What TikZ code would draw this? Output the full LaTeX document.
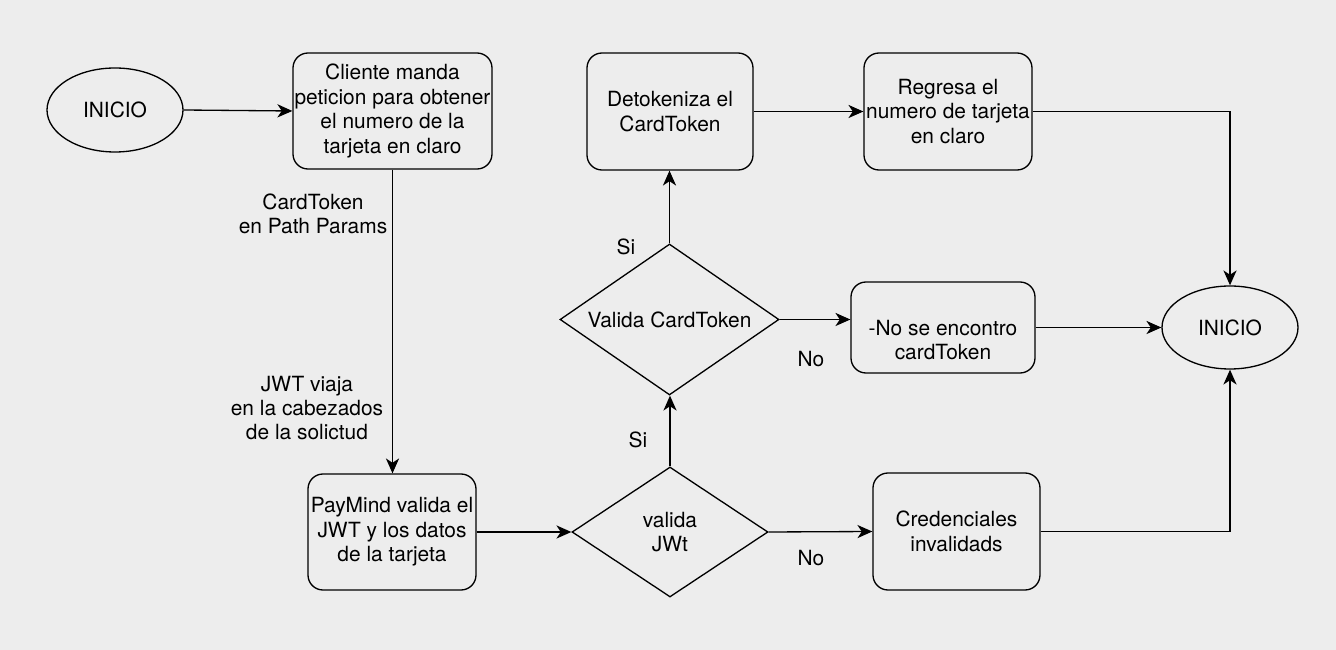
\documentclass[tikz,border=0pt]{standalone}
\usepackage{fontspec}
\setmainfont{TeX Gyre Heros}
\usetikzlibrary{shapes.geometric, arrows.meta, positioning}
\definecolor{bgcolor}{RGB}{237,237,237}
\tikzset{
	block/.style={draw, rounded corners=0.3cm, line width=0.75pt},
	decision/.style={draw, diamond, inner sep=0pt, line width=0.75pt},
	terminal/.style={draw, ellipse, inner sep=0pt, line width=0.75pt},
	flow/.style={-{Stealth[length=8.5pt, width=7.5pt, inset=2.5pt]}, line width=0.75pt},
	txt/.style={align=center, font=\fontsize{11.9}{13.9}\selectfont}
}

\begin{document}
\begin{tikzpicture}
		\fill[bgcolor] (0,0) rectangle (26.72,-13);
		
		% Start
		\node[terminal, minimum width=2.72cm, minimum height=1.68cm] (inicio) at (2.30,-2.20) {};
		\node[txt] at (inicio) {INICIO};
		
		% Client request
		\node[block, minimum width=3.98cm, minimum height=2.32cm] (cliente) at (7.85,-2.22) {};
		\node[txt] at (cliente) {Cliente manda\\peticion para obtener\\el numero de la\\tarjeta en claro};
		
		% PayMind validation
		\node[block, minimum width=3.36cm, minimum height=2.32cm] (paymind) at (7.84,-10.64) {};
		\node[txt] at (paymind) {PayMind valida el\\JWT y los datos\\de la tarjeta};
		
		% Decisions
		\node[decision, minimum width=3.92cm, minimum height=2.6cm] (validajwt) at (13.40,-10.64) {};
		\node[txt] at (validajwt) {valida\\JWt};
		\node[decision, minimum width=4.38cm, minimum height=3.02cm] (validatoken) at (13.39,-6.39) {};
		\node[txt] at (validatoken) {Valida CardToken};
		
		% Detokenize and return
		\node[block, minimum width=3.32cm, minimum height=2.34cm] (detoken) at (13.40,-2.23) {};
		\node[txt] at (detoken) {Detokeniza el\\CardToken};
		\node[block, minimum width=3.36cm, minimum height=2.34cm] (regresa) at (18.96,-2.23) {};
		\node[txt] at (regresa) {Regresa el\\numero de tarjeta\\en claro};
		
		% Errors
		\node[block, minimum width=3.68cm, minimum height=1.82cm] (notoken) at (18.86,-6.55) {};
		\node[txt] at ([yshift=-0.25cm]notoken.center) {-No se encontro\\cardToken};
		\node[block, minimum width=3.34cm, minimum height=2.34cm] (credenciales) at (19.13,-10.63) {};
		\node[txt] at (credenciales) {Credenciales\\invalidads};
		
		% End
		\node[terminal, minimum width=2.72cm, minimum height=1.66cm] (fin) at (24.60,-6.55) {};
		\node[txt] at (fin) {INICIO};
		
		% Edge labels
		\node[txt] (lbltoken) at (6.26,-4.28) {CardToken\\en Path Params};
		\node[txt] (lbljwt) at (6.14,-8.16) {JWT viaja\\en la cabezados\\de la solictud};
		\node[txt] (sitoken) at (12.52,-4.94) {Si};
		\node[txt] (sijwt) at (12.76,-8.80) {Si};
		\node[txt] (notokenlbl) at (16.22,-7.18) {No};
		\node[txt] (nojwt) at (16.22,-11.16) {No};
		
		% Arrows
		\draw[flow] (inicio.east) -- (cliente.west);
		\draw[flow] (cliente.south) -- (cliente.south |- paymind.north);
		\draw[flow] (paymind.east) -- (validajwt.west);
		\draw[flow] (validajwt.north) -- (validajwt.north |- validatoken.south);
		\draw[flow] (validajwt.east) -- (credenciales.west);
		\draw[flow] (validatoken.north) -- (validatoken.north |- detoken.south);
		\draw[flow] (validatoken.east) -- (validatoken.east -| notoken.west);
		\draw[flow] (detoken.east) -- (regresa.west);
		\draw[flow] (regresa.east) -| (fin.north);
		\draw[flow] (notoken.east) -- (fin.west);
		\draw[flow] (credenciales.east) -| (fin.south);
	\end{tikzpicture}
\end{document}
